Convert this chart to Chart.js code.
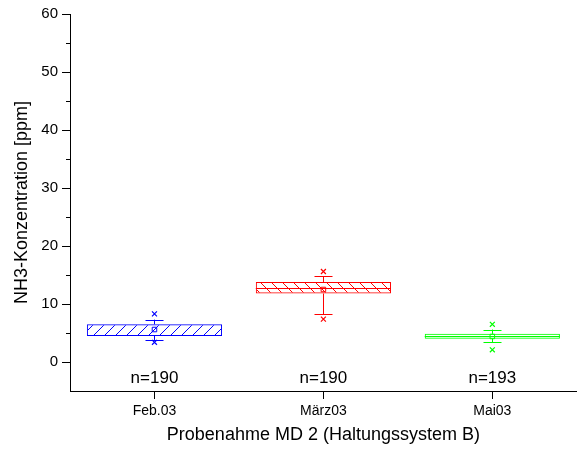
<!DOCTYPE html>
<html>
<head>
<meta charset="utf-8">
<script src="https://cdn.jsdelivr.net/npm/chart.js@4"></script>
<style>
  html, body { margin: 0; padding: 0; background: #fff; }
  #wrap { width: 582px; height: 452px; }
</style>
</head>
<body>
<div id="wrap"><canvas id="graph" width="582" height="452"></canvas></div>
<script>
const categories = ['Feb.03', 'März03', 'Mai03'];
const q1 = [4.5, 11.8, 4.0];
const q3 = [6.5, 13.8, 4.85];
const median = [null, 12.8, 4.4];   // Feb: median not visible
const mean = [5.6, 12.5, 4.4];
const whiskerLow = [3.8, 8.2, 3.4];
const whiskerHigh = [7.3, 14.8, 5.6];
const minVal = [3.4, 7.4, 2.1];
const maxVal = [8.3, 15.6, 6.5];
const counts = [190, 190, 193];
const yTicks = [0, 10, 20, 30, 40, 50, 60];
const yMinorTicks = [5, 15, 25, 35, 45, 55];

const colors = ['#0000ff', '#ff0000', '#00ff00'];
const hatch = ['/', '\\', ''];
const FONT = 'Arial, "Liberation Sans", sans-serif';

function makePattern(color, dir) {
    if (!dir) return 'rgba(255,255,255,0)';
    const s = 11;
    const c = document.createElement('canvas');
    c.width = s; c.height = s;
    const g = c.getContext('2d');
    g.strokeStyle = color;
    g.lineWidth = 1;
    g.beginPath();
    if (dir === '/') {
        g.moveTo(0, s); g.lineTo(s, 0);
        g.moveTo(-1, 1); g.lineTo(1, -1);
        g.moveTo(s - 1, s + 1); g.lineTo(s + 1, s - 1);
    } else {
        g.moveTo(0, 0); g.lineTo(s, s);
        g.moveTo(-1, s - 1); g.lineTo(1, s + 1);
        g.moveTo(s - 1, -1); g.lineTo(s + 1, 1);
    }
    g.stroke();
    return g.createPattern(c, 'repeat');
}

const boxPlugin = {
    id: 'boxParts',
    afterDatasetDraw(chart, args) {
        if (args.index !== 0) return;
        const ctx = chart.ctx;
        const y = chart.scales.y;
        const meta = chart.getDatasetMeta(0);
        ctx.save();
        ctx.lineWidth = 1;
        meta.data.forEach((bar, i) => {
            const cx = Math.round(bar.x) + 0.5;
            const half = bar.width / 2;
            ctx.strokeStyle = colors[i];
            ctx.beginPath();
            // whiskers
            ctx.moveTo(cx, y.getPixelForValue(whiskerHigh[i]));
            ctx.lineTo(cx, y.getPixelForValue(q3[i]));
            ctx.moveTo(cx, y.getPixelForValue(q1[i]));
            ctx.lineTo(cx, y.getPixelForValue(whiskerLow[i]));
            // caps
            const yh = Math.round(y.getPixelForValue(whiskerHigh[i])) + 0.5;
            const yl = Math.round(y.getPixelForValue(whiskerLow[i])) + 0.5;
            ctx.moveTo(cx - 9, yh); ctx.lineTo(cx + 9, yh);
            ctx.moveTo(cx - 9, yl); ctx.lineTo(cx + 9, yl);
            // median
            if (median[i] !== null) {
                const ym = Math.round(y.getPixelForValue(median[i])) + 0.5;
                ctx.moveTo(bar.x - half, ym); ctx.lineTo(bar.x + half, ym);
            }
            ctx.stroke();
        });
        ctx.restore();
    },
    afterDraw(chart) {
        const ctx = chart.ctx;
        const y = chart.scales.y;
        const x = chart.scales.x;
        ctx.save();
        // minor ticks on the y axis
        ctx.strokeStyle = '#000';
        ctx.lineWidth = 1;
        ctx.beginPath();
        yMinorTicks.forEach(v => {
            const py = Math.round(y.getPixelForValue(v)) + 0.5;
            ctx.moveTo(chart.chartArea.left - 4, py);
            ctx.lineTo(chart.chartArea.left, py);
        });
        ctx.stroke();
        // sample counts
        ctx.fillStyle = '#000';
        ctx.font = '17px ' + FONT;
        ctx.textAlign = 'center';
        ctx.textBaseline = 'middle';
        counts.forEach((n, i) => {
            ctx.fillText('n=' + n, x.getPixelForValue(i), y.getPixelForValue(-2.8));
        });
        ctx.restore();
    }
};

const graph = document.getElementById('graph');

new Chart(graph, {
    type: 'bar',
    data: {
        labels: categories,
        datasets: [
            {
                data: categories.map((c, i) => [q1[i], q3[i]]),
                backgroundColor: colors.map((c, i) => makePattern(c, hatch[i])),
                borderColor: colors,
                borderWidth: 1,
                borderSkipped: false,
                categoryPercentage: 0.8,
                barPercentage: 1,
                grouped: false,
                order: 3
            },
            {
                type: 'line',
                data: mean,
                showLine: false,
                pointStyle: 'rect',
                pointRadius: 3.2,
                pointBorderWidth: 1,
                pointBorderColor: colors,
                pointBackgroundColor: 'rgba(255,255,255,0)',
                order: 1
            },
            {
                type: 'line',
                data: minVal,
                showLine: false,
                pointStyle: 'crossRot',
                pointRadius: 3.5,
                pointBorderWidth: 1.2,
                pointBorderColor: colors,
                order: 1
            },
            {
                type: 'line',
                data: maxVal,
                showLine: false,
                pointStyle: 'crossRot',
                pointRadius: 3.5,
                pointBorderWidth: 1.2,
                pointBorderColor: colors,
                order: 1
            }
        ]
    },
    options: {
        responsive: false,
        animation: false,
        events: [],
        layout: { padding: { top: 14, right: 1, left: 0, bottom: 0 } },
        plugins: {
            legend: { display: false },
            tooltip: { enabled: false }
        },
        scales: {
            x: {
                type: 'category',
                offset: true,
                grid: { display: true, drawOnChartArea: false, drawTicks: true, tickLength: 8, color: '#000', offset: false },
                border: { display: true, color: '#000', width: 1 },
                ticks: { color: '#000', font: { family: FONT, size: 14 }, padding: 4, maxRotation: 0 },
                title: { display: true, text: 'Probenahme MD 2 (Haltungssystem B)', color: '#000',
                         font: { family: FONT, size: 18 }, padding: { top: 0, bottom: 6 } },
                afterFit(scale) { scale.height = 61; }
            },
            y: {
                min: -5,
                max: 60,
                afterBuildTicks(scale) { scale.ticks = yTicks.map(v => ({ value: v })); },
                grid: { display: true, drawOnChartArea: false, drawTicks: true, tickLength: 8, color: '#000' },
                border: { display: true, color: '#000', width: 1 },
                ticks: { color: '#000', font: { family: FONT, size: 15 }, padding: 4 },
                title: { display: true, text: 'NH3-Konzentration [ppm]', color: '#000',
                         font: { family: FONT, size: 18 }, padding: { top: 11, bottom: 0 } },
                afterFit(scale) { scale.width = 70; }
            }
        }
    },
    plugins: [boxPlugin]
});
</script>
</body>
</html>
